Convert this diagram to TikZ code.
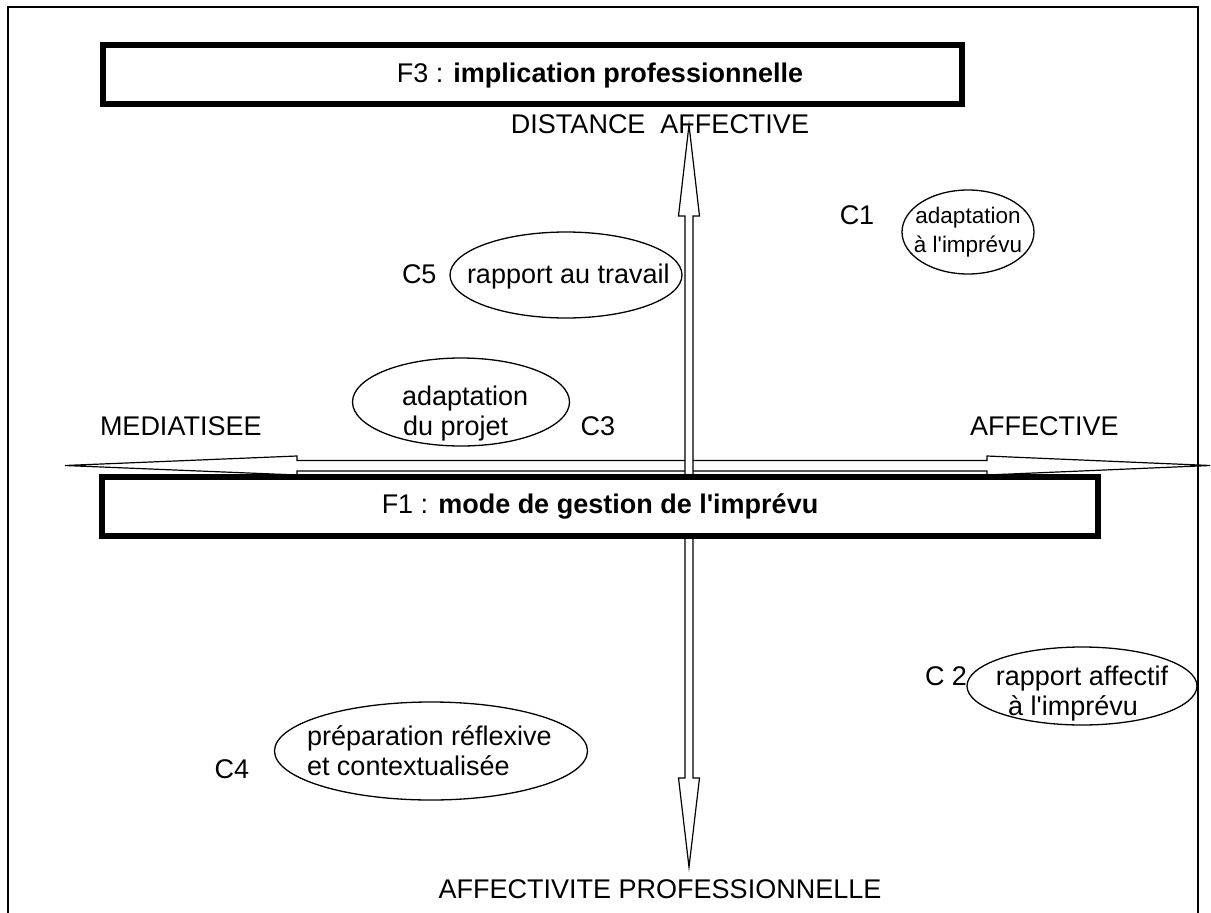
\documentclass[tikz,border=0pt]{standalone}
\usepackage{fontspec}
\setmainfont{Liberation Sans}[Ligatures=TeXOff]
\usetikzlibrary{shapes.geometric}
\begin{document}
\begin{tikzpicture}[x=1pt,y=-1pt,
  every node/.style={font=\fontsize{27}{30}\selectfont, inner sep=0pt, outer sep=0pt},
  small/.style={font=\fontsize{22.5}{26}\selectfont},
  lbl/.style={anchor=base},
  lblw/.style={anchor=base west},
  bar/.style={draw, line width=6pt, fill=white, inner sep=0pt},
  oval/.style={draw, ellipse, line width=1.3pt, inner sep=0pt},
  axis/.style={draw, fill=white, line width=1.2pt, line join=miter},
]
\useasboundingbox (0,0) rectangle (1211,913);
% frame
\draw[line width=1.5pt] (8,913) -- (8,7) -- (1198,7) -- (1198,913);

% horizontal axis
\coordinate (hL) at (65,465.5);
\coordinate (hR) at (1210,465.5);
\path[axis] (hL) -- (297,456) -- (297,460.5) -- (987,460.5) -- (987,456) -- (hR)
  -- (987,475) -- (987,471) -- (297,471) -- (297,475) -- cycle;

% vertical axis
\coordinate (vT) at (689,125);
\coordinate (vB) at (689,867);
\path[axis] (vT) -- (699.5,216) -- (693,216) -- (693,778) -- (699.5,778) -- (vB)
  -- (678.5,778) -- (685,778) -- (685,216) -- (678.5,216) -- cycle;

% boxes
\node[bar, minimum width=859pt, minimum height=59pt] (f3) at (532.5,74.5) {};
\node[lbl] (f3t) at (600,82) {F3 : \textbf{implication professionnelle}};
\node[bar, minimum width=996pt, minimum height=59pt] (f1) at (600,506.5)
  {F1 : \textbf{mode de gestion de l'imprévu}};

% axis labels
\node[lbl] (dist) at (660,133) {DISTANCE~\ AFFECTIVE};
\node[lbl] (prof) at (660,898) {AFFECTIVITE PROFESSIONNELLE};
\node[lblw] (med) at (100,435) {MEDIATISEE};
\node[lblw] (aff) at (970,435) {AFFECTIVE};

% C1
\node[lbl] (c1) at (857,224) {C1};
\node[oval, minimum width=132pt, minimum height=84pt] (e1) at (968,232) {};
\node[lbl, small] (e1a) at (968,223) {adaptation};
\node[lbl, small] (e1b) at (968,252) {à l'imprévu};

% C5
\node[lblw] (c5) at (402,283) {C5};
\node[oval, minimum width=232pt, minimum height=86pt] (e5) at (566,275) {};
\node[lblw] (e5a) at (467,283) {rapport au travail};

% C3
\node[lbl] (c3) at (598,435) {C3};
\node[oval, minimum width=217pt, minimum height=88pt] (e3) at (461,402) {};
\node[lblw] (e3a) at (402,405) {adaptation};
\node[lblw] (e3b) at (403,435) {du projet};

% C2
\node[lblw] (c2) at (925,685) {C 2};
\node[oval, minimum width=230pt, minimum height=78pt] (e2) at (1082,686) {};
\node[lbl] (e2a) at (1082,685) {rapport affectif};
\node[lbl] (e2b) at (1073,715) {à l'imprévu};

% C4
\node[lbl] (c4) at (232,778) {C4};
\node[oval, minimum width=313pt, minimum height=98pt] (e4) at (431,751) {};
\node[lblw] (e4a) at (307,745) {préparation réflexive};
\node[lblw] (e4b) at (307,775) {et contextualisée};
\end{tikzpicture}
\end{document}
